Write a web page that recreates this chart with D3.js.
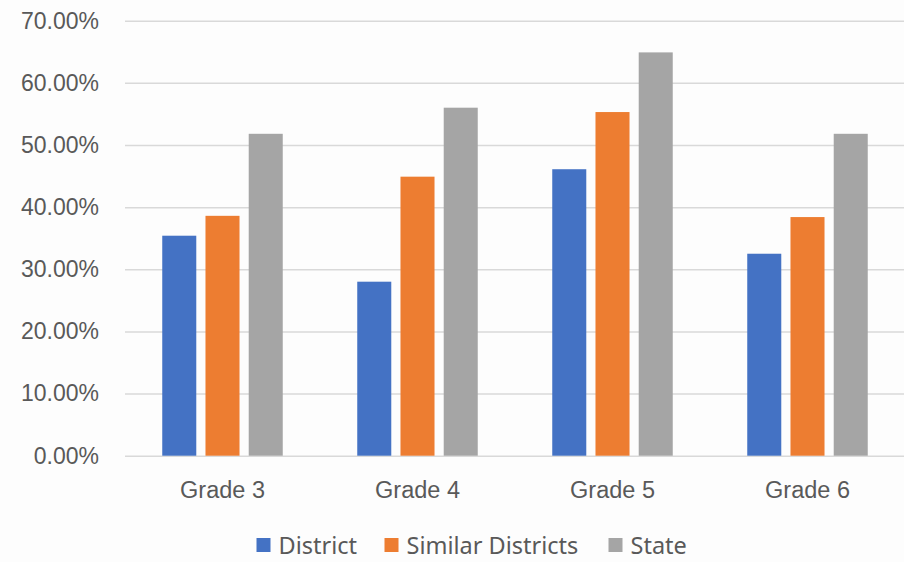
<!DOCTYPE html>
<html>
<head>
<meta charset="utf-8">
<script src="https://cdn.jsdelivr.net/npm/d3@7"></script>
<style>
  html, body { margin: 0; padding: 0; background: #fdfdfd; }
  svg { display: block; font-family: "Noto Sans", "Open Sans", sans-serif; }
</style>
</head>
<body>
<svg id="chart"></svg>
<script>
// data
const grades = ["Grade 3", "Grade 4", "Grade 5", "Grade 6"];
const seriesNames = ["District", "Similar Districts", "State"];
const district = [0.354, 0.280, 0.461, 0.325];
const similar = [0.386, 0.449, 0.553, 0.384];
const state = [0.518, 0.560, 0.649, 0.518];
const yTicks = [0, 0.1, 0.2, 0.3, 0.4, 0.5, 0.6, 0.7];
const colors = ["#4472C4", "#ED7D31", "#A5A5A5"];

const width = 904;
const height = 562;
const margin = { top: 20.7, right: -1, bottom: 106.3, left: 125 };

const svg = d3.select("#chart").attr("width", width).attr("height", height);

const rows = grades.map((g, i) => ({
    grade: g,
    values: [district[i], similar[i], state[i]]
}));

// scales
const x = d3.scaleBand()
    .domain(grades)
    .range([margin.left, width - margin.right])
    .padding(0);

const xInner = d3.scaleBand()
    .domain(d3.range(seriesNames.length))
    .range([x.bandwidth() * 0.191, x.bandwidth() * 0.809])
    .paddingInner(0.213)
    .paddingOuter(0);

const y = d3.scaleLinear()
    .domain([0, 0.7])
    .range([height - margin.bottom, margin.top]);

// y axis + gridlines
const yAxis = svg.append("g")
    .attr("transform", `translate(${margin.left}, 0)`)
    .call(d3.axisLeft(y)
        .tickValues(yTicks)
        .tickFormat(d3.format(".2%"))
        .tickSize(-(width - margin.left))
        .tickPadding(26));
yAxis.select(".domain").remove();
yAxis.selectAll(".tick line").attr("stroke", "#d9d9d9").attr("stroke-width", 1.5);
yAxis.selectAll(".tick text")
    .attr("fill", "#595959")
    .style("font-size", "23px");

// bars
const groups = svg.append("g")
    .selectAll("g")
    .data(rows)
    .join("g")
    .attr("transform", d => `translate(${x(d.grade)}, 0)`);

groups.selectAll("rect")
    .data(d => d.values)
    .join("rect")
    .attr("x", (d, i) => xInner(i))
    .attr("y", d => y(d))
    .attr("width", xInner.bandwidth())
    .attr("height", d => y(0) - y(d))
    .attr("fill", (d, i) => colors[i]);

// x axis labels
const xAxis = svg.append("g")
    .attr("transform", `translate(0, ${height - margin.bottom})`)
    .call(d3.axisBottom(x).tickSize(0).tickPadding(26));
xAxis.select(".domain").remove();
xAxis.selectAll(".tick text")
    .attr("fill", "#595959")
    .style("font-size", "23.5px");

// legend
const legendX = [256.5, 384.5, 608.5];
const legend = svg.append("g")
    .selectAll("g")
    .data(seriesNames)
    .join("g")
    .attr("transform", (d, i) => `translate(${legendX[i]}, 538)`);

legend.append("rect")
    .attr("width", 14)
    .attr("height", 14)
    .attr("fill", (d, i) => colors[i]);

legend.append("text")
    .attr("x", 22)
    .attr("y", 15.5)
    .attr("fill", "#595959")
    .style("font-size", "23.5px")
    .text(d => d);
</script>
</body>
</html>
